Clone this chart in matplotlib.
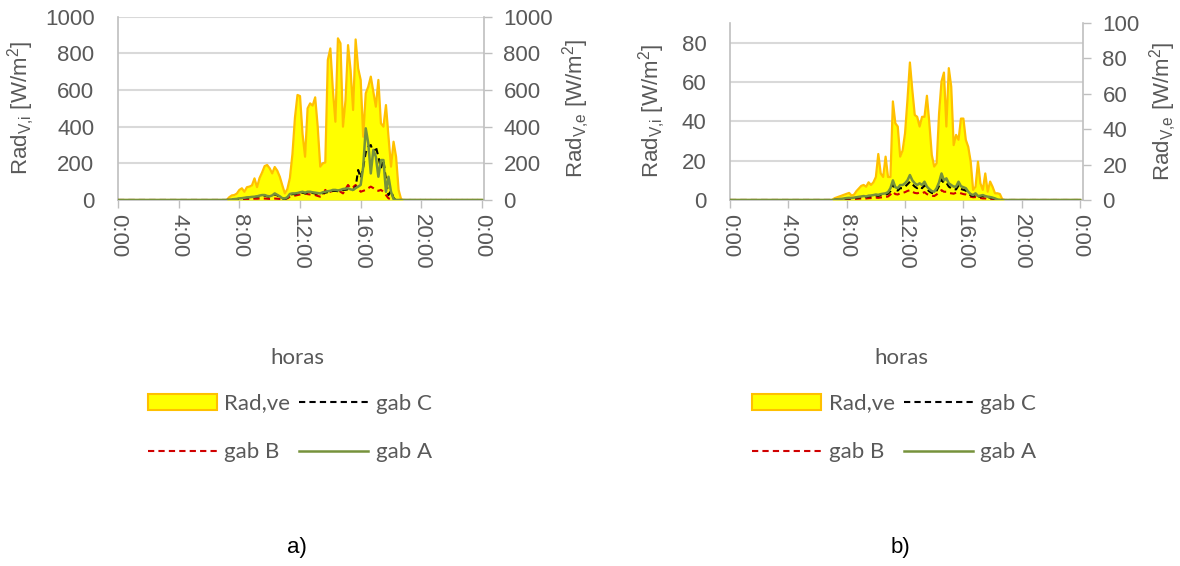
import numpy as np
import matplotlib
matplotlib.use("Agg")
import matplotlib.pyplot as plt
from matplotlib.patches import Patch
from matplotlib.lines import Line2D

plt.rcParams['font.family'] = ['Liberation Sans', 'DejaVu Sans']
plt.rcParams['mathtext.fontset'] = 'custom'
plt.rcParams['mathtext.rm'] = 'Liberation Sans'
plt.rcParams['mathtext.it'] = 'Liberation Sans:italic'

# time axis: 10 min steps over the day, readings only between 7:00 and 19:00
hours = np.arange(0, 24 * 60 + 1, 10) / 60
tick_hours = [0, 4, 8, 12, 16, 20, 24]
tick_labels = ["0:00", "4:00", "8:00", "12:00", "16:00", "20:00", "0:00"]

# ---- a) values 7:00 .. 19:00 [W/m2]
rad_a = [0, 0, 15, 25, 27, 35, 55, 64, 45, 70,
         73, 80, 118, 70, 120, 150, 185, 191, 173, 145,
         180, 160, 127, 80, 36, 60, 120, 250, 450, 573,
         567, 360, 236, 500, 527, 515, 560, 400, 182, 200,
         205, 764, 827, 600, 427, 882, 855, 400, 545, 845,
         709, 491, 876, 718, 655, 345, 582, 618, 673, 591,
         509, 655, 418, 400, 518, 345, 182, 318, 236, 55,
         4, 0, 0]
gabA_a = [0, 0, 2, 3, 5, 6, 9, 10, 12, 14,
          15, 17, 18, 20, 24, 27, 27, 22, 20, 25,
          36, 28, 20, 10, 8, 15, 33, 36, 36, 38,
          42, 45, 40, 45, 45, 42, 40, 38, 36, 42,
          45, 48, 50, 55, 55, 52, 55, 60, 62, 64,
          58, 55, 65, 73, 82, 182, 391, 309, 145, 273,
          236, 127, 218, 218, 45, 127, 45, 5, 0, 0,
          0, 0, 0]
gabB_a = [0, 0, 1, 2, 2, 3, 4, 4, 5, 5,
          6, 6, 7, 7, 8, 8, 8, 7, 6, 7,
          8, 7, 6, 4, 6, 9, 18, 22, 24, 27,
          30, 33, 36, 32, 30, 28, 27, 22, 18, 20,
          55, 40, 45, 50, 52, 55, 45, 36, 60, 82,
          64, 70, 82, 60, 45, 50, 55, 65, 73, 65,
          55, 50, 55, 45, 27, 9, 5, 3, 0, 0,
          0, 0, 0]
gabC_a = [0, 0, 1, 2, 4, 5, 7, 8, 10, 12,
          13, 15, 16, 18, 21, 24, 24, 20, 18, 22,
          32, 25, 17, 8, 6, 12, 28, 32, 32, 34,
          38, 40, 36, 40, 40, 38, 36, 34, 32, 38,
          40, 43, 45, 50, 50, 48, 50, 55, 56, 58,
          52, 55, 70, 164, 120, 180, 260, 291, 300, 255,
          291, 236, 173, 218, 109, 27, 50, 10, 0, 0,
          0, 0, 0]

# ---- b) values 7:00 .. 19:00 [W/m2]
rad_b = [0, 1, 1.5, 2, 2.5, 3, 3.5, 4, 2.5, 3,
         5, 6.5, 8, 8.5, 7.5, 10, 8.5, 10, 13, 26,
         15, 13, 24.5, 13, 13, 55.7, 43.4, 41.5, 24.5, 28,
         37.7, 56.6, 77.7, 62, 48, 47, 41.5, 47, 47, 58.9,
         43.4, 25.5, 18.9, 20.8, 49, 67, 72, 41.5, 74.5, 64,
         31, 36.8, 34, 46, 46, 34, 30, 21.7, 5.7, 7.5,
         21.7, 9.4, 5.7, 15, 4.7, 10.4, 7.5, 3.8, 3.8, 3.4,
         0.4, 0, 0]
gabA_b = [0, 0.2, 0.3, 0.5, 0.6, 0.8, 1, 1.1, 1, 1.2,
          1.4, 1.6, 1.8, 2, 1.8, 2.2, 2.3, 2.5, 2.8, 2.6,
          3, 3.2, 3.4, 4, 6, 10, 6.5, 6, 7.6, 7.6,
          8.5, 10, 12.7, 10, 8.5, 7.6, 8.5, 7.6, 9.3, 6.8,
          5.5, 4.5, 4.2, 6, 9, 13.5, 10, 11, 8.5, 7.6,
          6.8, 6.8, 9.3, 7, 6.5, 6, 4.2, 3, 2.5, 3.4,
          2, 2.2, 2.5, 2, 1.7, 1.5, 1.2, 0.8, 0.3, 0,
          0, 0, 0]
gabB_b = [0, 0, 0.1, 0.2, 0.2, 0.3, 0.4, 0.4, 0.4, 0.5,
          0.6, 0.7, 0.8, 0.8, 0.8, 0.9, 1, 1.1, 1.2, 1.1,
          1.3, 1.4, 1.5, 1.8, 2.8, 4.2, 3, 2.8, 3.4, 3.6,
          4, 4.6, 5, 4.2, 3.6, 3.4, 3.8, 3.4, 4, 3,
          2.5, 2.2, 2, 2.8, 4, 5, 4.2, 4.2, 3.6, 3.4,
          3.2, 3.7, 3.8, 3.4, 3, 2.8, 2.2, 1.7, 1.4, 1.5,
          1, 1, 0.8, 0.8, 0.6, 0.5, 0.3, 0.2, 0.1, 0,
          0, 0, 0]
gabC_b = [0, 0.1, 0.2, 0.4, 0.5, 0.6, 0.8, 0.9, 0.8, 1,
          1.1, 1.3, 1.5, 1.6, 1.5, 1.8, 1.9, 2, 2.3, 2.1,
          2.5, 2.6, 2.8, 3.2, 4.5, 8, 5.2, 4.8, 6, 6,
          6.8, 8, 9.3, 8, 6.8, 6, 6.8, 6, 7.4, 5.4,
          4.4, 3.6, 3.4, 4.8, 7.2, 10.5, 8.5, 8.8, 6.8, 6,
          5.4, 5.4, 7.4, 5.6, 5.2, 4.8, 3.4, 2.4, 2, 2.7,
          1.6, 1.8, 2, 1.6, 1.4, 1.2, 1, 0.6, 0.2, 0,
          0, 0, 0]

TXT = '#595959'
AXC = '#BFBFBF'
YELLOW = '#FFFF00'
ORANGE = '#FFC000'
GREEN = '#76923C'
RED = '#D00000'
DASH = (0, (3, 2))


def full_day(vals):
    # zeros before 7:00 and after 19:00
    return np.concatenate([np.zeros(42), vals, np.zeros(len(hours) - 42 - len(vals))])


def panel(rect, xmax, rad, ga, gb, gc, lim_i, lim_e, step, lab_x):
    ax = fig.add_axes(rect)
    ax2 = ax.twinx()
    ax3 = ax.twinx()

    ax.set_xlim(0, xmax)
    ax.set_ylim(0, lim_i)
    ax.set_yticks(np.arange(0, lim_i + 1, step))
    ax.grid(axis='y', color='#D9D9D9', lw=1.5)
    ax.set_axisbelow(True)
    ax.set_xticks(tick_hours)
    ax.set_xticklabels(tick_labels, rotation=-90, va='top', ha='center')
    ax.tick_params(axis='x', direction='out', length=6, width=1, color=AXC,
                   labelcolor=TXT, labelsize=16, pad=4)
    ax.tick_params(axis='y', length=0, labelcolor=TXT, labelsize=16, pad=17)
    for s in ['top', 'right']:
        ax.spines[s].set_visible(False)
    for s in ['left', 'bottom']:
        ax.spines[s].set_color(AXC)
        ax.spines[s].set_linewidth(1.2)
    ax.set_ylabel(r'Rad$_\mathrm{V{,}i}$ [W/m$^\mathrm{2}$]', fontsize=16, color=TXT)
    ax.yaxis.set_label_coords(lab_x[0], 0.5)

    # external radiation on the secondary axis
    ax2.set_ylim(0, lim_e)
    ax2.set_yticks(np.arange(0, lim_e + 1, lim_e / 5))
    ax2.fill_between(hours, full_day(rad), color=YELLOW, lw=0)
    ax2.plot(hours, full_day(rad), color=ORANGE, lw=1.6)
    ax2.tick_params(axis='y', direction='out', length=6, width=1, color=AXC,
                    labelcolor=TXT, labelsize=16, pad=8)
    for s in ['top', 'left', 'bottom']:
        ax2.spines[s].set_visible(False)
    ax2.spines['right'].set_color(AXC)
    ax2.spines['right'].set_linewidth(1.2)
    ax2.set_ylabel(r'Rad$_\mathrm{V{,}e}$ [W/m$^\mathrm{2}$]', fontsize=16, color=TXT)
    ax2.yaxis.set_label_coords(lab_x[1], 0.5)

    # internal radiation lines on top, same scale as left axis
    ax3.set_ylim(0, lim_i)
    ax3.plot(hours, full_day(gb), color=RED, lw=1.5, ls=DASH)
    ax3.plot(hours, full_day(gc), color='black', lw=1.5, ls=DASH)
    ax3.plot(hours, full_day(ga), color=GREEN, lw=1.8)
    ax3.axis('off')
    ax3.set_xlim(0, xmax)


fig = plt.figure(figsize=(11.8, 5.66), dpi=100)

panel([118 / 1180, 1 - 200 / 566, 366 / 1180, 183.3 / 566], 24.13,
      rad_a, gabA_a, gabB_a, gabC_a, 1000, 1000, 200, (-0.22, 1.208))
panel([730 / 1180, 1 - 200 / 566, 353 / 1180, 177 / 566], 24.2,
      rad_b, gabA_b, gabB_b, gabC_b, 90, 100, 20, (-0.176, 1.184))

handles = [Patch(facecolor=YELLOW, edgecolor=ORANGE, lw=1.5),
           Line2D([], [], color=RED, lw=1.5, ls=DASH),
           Line2D([], [], color='black', lw=1.5, ls=DASH),
           Line2D([], [], color=GREEN, lw=1.8)]
labels = ['Rad,ve', 'gab B', 'gab C', 'gab A']

for cx in [0.2517, 0.764]:
    fig.text(cx, 1 - 358 / 566, 'horas', ha='center', va='center',
             fontsize=16, color=TXT, family=['Lato', 'DejaVu Sans'])
    fig.legend(handles, labels, ncol=2, loc='center', bbox_to_anchor=(cx - 0.006, 1 - 428 / 566),
               frameon=False, handlelength=3.1, handletextpad=0.35, columnspacing=0.4,
               labelspacing=1.3, labelcolor=TXT,
               prop={'family': ['Lato', 'DejaVu Sans'], 'size': 16})

fig.text(297 / 1180, 1 - 548 / 566, 'a)', ha='center', va='center', fontsize=16, color='black')
fig.text(900 / 1180, 1 - 548 / 566, 'b)', ha='center', va='center', fontsize=16, color='black')

fig.savefig('out.png', dpi=100)
plt.close(fig)
